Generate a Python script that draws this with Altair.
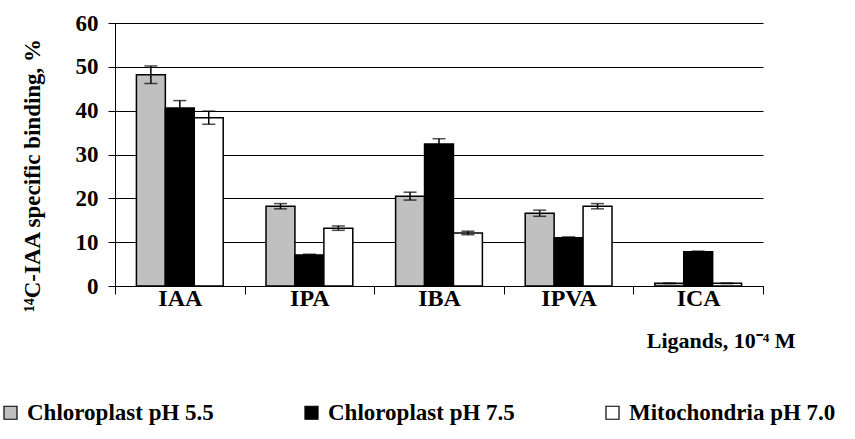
import altair as alt
import pandas as pd

ligands = ["IAA", "IPA", "IBA", "IPVA", "ICA"]
series = ["Chloroplast pH 5.5", "Chloroplast pH 7.5", "Mitochondria pH 7.0"]
colors = ["#c0c0c0", "#000000", "#ffffff"]

chl55 = [48.2, 18.2, 20.5, 16.6, 0.6]
chl55_err = [2.0, 0.6, 0.9, 0.7, 0.05]
chl75 = [40.6, 7.1, 32.4, 11.0, 7.8]
chl75_err = [1.7, 0.15, 1.2, 0.2, 0.15]
mit70 = [38.4, 13.2, 12.1, 18.2, 0.6]
mit70_err = [1.5, 0.5, 0.4, 0.6, 0.05]

rows = []
for s, vals, errs in zip(series, [chl55, chl75, mit70], [chl55_err, chl75_err, mit70_err]):
    for lig, v, e in zip(ligands, vals, errs):
        rows.append({"ligand": lig, "series": s, "value": v, "lo": v - e, "hi": v + e})
df = pd.DataFrame(rows)

FONT = "Liberation Serif"

x_enc = alt.X(
    "ligand:N", sort=ligands,
    scale=alt.Scale(paddingInner=0, paddingOuter=0),
    axis=alt.Axis(
        title="Ligands, 10⁻⁴ M", labelAngle=0, grid=False, tickBand="extent",
        domainColor="black", tickColor="black", tickSize=8, domainWidth=1,
        labelFont=FONT, labelFontWeight="bold", labelFontSize=24, labelColor="black",
        labelPadding=-8,
        titleFont=FONT, titleFontWeight="bold", titleFontSize=22, titleColor="black",
        titleX=680, titleY=61, titleAlign="right", titleBaseline="alphabetic",
    ),
)
xo_enc = alt.XOffset("series:N", sort=series,
                     scale=alt.Scale(paddingInner=0, paddingOuter=0.74))

y_axis = alt.Axis(
    values=[0, 10, 20, 30, 40, 50, 60], grid=True, gridColor="black", gridWidth=1,
    domainColor="black", tickColor="black", tickSize=7,
    labelFont=FONT, labelFontWeight="bold", labelFontSize=23, labelColor="black",
    labelPadding=10,
    title="¹⁴C-IAA specific binding, %",
    titleFont=FONT, titleFontWeight="bold", titleFontSize=23, titleColor="black",
    titleX=-83, titleY=152, titleAngle=-90, titleAlign="center", titleBaseline="middle",
)
y_scale = alt.Scale(domain=[0, 60], nice=False)

base = alt.Chart(df)

bars = base.mark_bar(stroke="black", strokeWidth=1.5).encode(
    x=x_enc,
    xOffset=xo_enc,
    y=alt.Y("value:Q", scale=y_scale, axis=y_axis),
    fill=alt.Fill(
        "series:N", sort=series,
        scale=alt.Scale(domain=series, range=colors),
        legend=alt.Legend(
            title=None, orient="none", direction="horizontal", columns=3,
            legendX=-116, legendY=378,
            symbolType="square", symbolSize=170, symbolStrokeColor="black",
            symbolStrokeWidth=1.2, labelOffset=5, columnPadding=86,
            labelFont=FONT, labelFontWeight="bold", labelFontSize=23, labelColor="black",
            labelLimit=400,
        ),
    ),
)

err_rule = base.mark_rule(color="black", strokeWidth=1.5).encode(
    x=x_enc, xOffset=xo_enc,
    y=alt.Y("lo:Q", scale=y_scale), y2="hi:Q",
)
cap_lo = base.mark_tick(color="black", size=13, thickness=1.5).encode(
    x=x_enc, xOffset=xo_enc, y=alt.Y("lo:Q", scale=y_scale),
)
cap_hi = base.mark_tick(color="black", size=13, thickness=1.5).encode(
    x=x_enc, xOffset=xo_enc, y=alt.Y("hi:Q", scale=y_scale),
)

chart = alt.layer(bars, err_rule, cap_lo, cap_hi).properties(
    width=648, height=263,
    autosize=alt.AutoSizeParams(type="none"),
    padding={"left": 115, "top": 23, "right": 92, "bottom": 153},
    background="white",
).configure_view(stroke=None)

chart.save("out.html", embed_options={"renderer": "svg", "actions": False})
